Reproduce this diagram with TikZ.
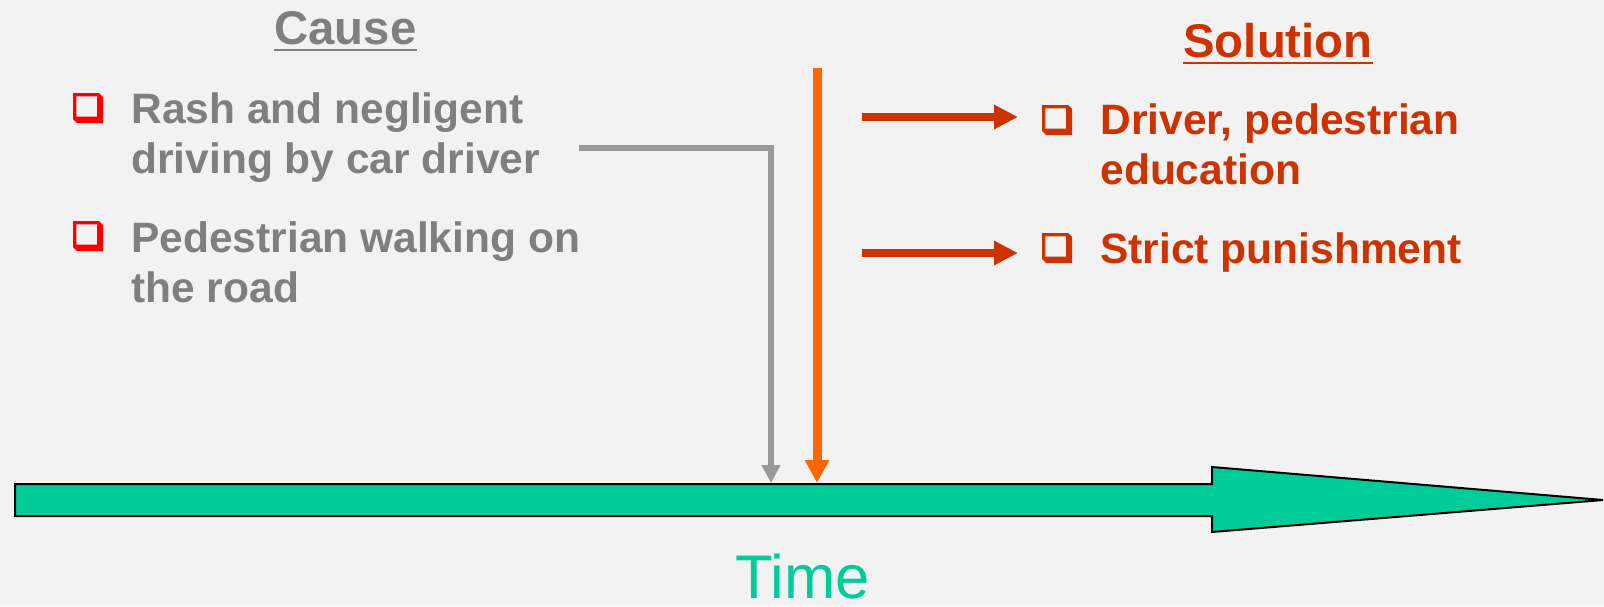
\documentclass[tikz,border=0pt]{standalone}
\usepackage{fontspec}
\setmainfont{Liberation Sans}
\usetikzlibrary{arrows.meta}
\definecolor{bg}{HTML}{F2F2F2}
\definecolor{causegray}{HTML}{7F7F7F}
\definecolor{arrowgray}{HTML}{999999}
\definecolor{bulletred}{HTML}{FF0000}
\definecolor{solred}{HTML}{CC3300}
\definecolor{orng}{HTML}{FF6600}
\definecolor{teal}{HTML}{00CC99}
\tikzset{
  cbox/.pic={\fill[#1,even odd rule] (0,0) -- (26,0) -- (30,4) -- (30,30) -- (4,30) -- (0,26) -- cycle (3.3,3.3) rectangle (24,23.5);},
  bodytext/.style={anchor=base west, inner sep=0pt, align=left, font=\fontsize{21.25pt}{25.25pt}\selectfont\bfseries},
  headtext/.style={anchor=base west, inner sep=0pt, font=\fontsize{23.65pt}{28pt}\selectfont\bfseries},
  solarrow/.style={solred, line width=4pt, -{Triangle[length=12pt,width=11.5pt]}},
}
\begin{document}
\begin{tikzpicture}[x=0.5pt,y=-0.5pt]
\fill[bg] (0,0) rectangle (1604,606);
\useasboundingbox (0,0) rectangle (1604,606);

% timeline arrow
\filldraw[fill=teal, draw=black, line width=1pt, line join=miter]
  (15,484) -- (1212,484) -- (1212,467) -- (1603,500) -- (1212,532) -- (1212,516) -- (15,516) -- cycle;
\coordinate (grayend) at (771,483);
\coordinate (orangetop) at (817,68);
\coordinate (orangeend) at (817,483);

% headers
\node[headtext, text=causegray] (cause) at (274,44) {Cause};
\draw[causegray, line width=1.2pt] ([yshift=-3pt]cause.base west) -- ([yshift=-3pt]cause.base east);
\node[headtext, text=solred] (solution) at (1183,57) {Solution};
\draw[solred, line width=1.2pt] ([yshift=-3pt]solution.base west) -- ([yshift=-3pt]solution.base east);

% cause items (anchor = baseline of last line)
\pic at (73,93) {cbox=bulletred};
\node[bodytext, text=causegray] (c1) at (131,173.5) {Rash and negligent\\driving by car driver};
\pic at (73,221) {cbox=bulletred};
\node[bodytext, text=causegray] (c2) at (131,302.5) {Pedestrian walking on\\the road};

% solution items
\pic at (1042,105) {cbox=solred};
\node[bodytext, text=solred] (s1) at (1100,184.5) {Driver, pedestrian\\education};
\pic at (1042,233) {cbox=solred};
\node[bodytext, text=solred] (s2) at (1100,263) {Strict punishment};

% connectors
\coordinate (graystart) at (579,148);
\draw[arrowgray, line width=2.8pt, line join=miter, -{Triangle[length=9pt,width=9pt]}] (graystart) -| (grayend);
\draw[orng, line width=4.5pt, -{Triangle[length=11.5pt,width=11.5pt]}] (orangetop) -- (orangeend);
\coordinate (a1) at (862,117);
\coordinate (a1e) at (1018,117);
\coordinate (a2) at (862,253);
\coordinate (a2e) at (1018,253);
\draw[solarrow] (a1) -- (a1e);
\draw[solarrow] (a2) -- (a2e);

% time label
\node[anchor=base west, inner sep=0pt, text=teal, font=\fontsize{30.8pt}{36pt}\selectfont] (time) at (735,598) {Time};
\end{tikzpicture}
\end{document}
